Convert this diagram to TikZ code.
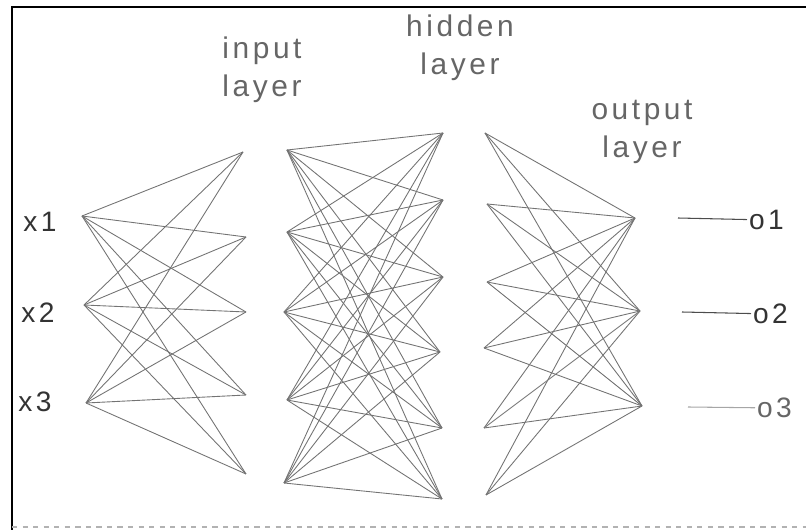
\documentclass[tikz,border=0pt]{standalone}
\usepackage{fontspec}
\setmainfont{Liberation Sans}[LetterSpace=12]
\begin{document}
\begin{tikzpicture}[
    x=0.02cm, y=-0.02cm,
    weight/.style={black!55, line width=0.5pt},
    layertitle/.style={align=center, text=black!60, font=\fontsize{17}{21.6}\selectfont, inner sep=0pt},
    varlabel/.style={text=black!80, font=\fontsize{16}{18}\selectfont, inner sep=1pt},
    outline/.style={black!70, line width=0.6pt},
]

\useasboundingbox (0,0) rectangle (806,530);

% frame
\draw [line width=0.8pt] (806,7) -- (12,7) -- (12,530);
\draw [black!30, line width=0.6pt, dashed] (12,527) -- (806,527);

% titles
\node (inputtitle) [layertitle] at (262,70) {input\\layer};
\node (hiddentitle) [layertitle] at (460,48) {hidden\\layer};
\node (outputtitle) [layertitle] at (642,132) {output\\layer};

% inputs
\coordinate (x1) at (82,216);
\coordinate (x2) at (84,305);
\coordinate (x3) at (86,403);

% input layer
\coordinate (ib1) at (243,152);
\coordinate (ib2) at (246,237);
\coordinate (ib3) at (246,312);
\coordinate (ib4) at (246,395);
\coordinate (ib5) at (246,474);

% hidden layer
\coordinate (hc1) at (287,150);
\coordinate (hc2) at (287,232);
\coordinate (hc3) at (284,312);
\coordinate (hc4) at (287,400);
\coordinate (hc5) at (284,483);

\coordinate (hd1) at (443,133);
\coordinate (hd2) at (443,200);
\coordinate (hd3) at (443,277);
\coordinate (hd4) at (440,352);
\coordinate (hd5) at (442,428);
\coordinate (hd6) at (442,499);

% output layer
\coordinate (oe1) at (485,133);
\coordinate (oe2) at (487,204);
\coordinate (oe3) at (487,282);
\coordinate (oe4) at (484,348);
\coordinate (oe5) at (484,428);
\coordinate (oe6) at (486,495);

\coordinate (o1) at (635,218);
\coordinate (o2) at (640,311);
\coordinate (o3) at (642,406);

% weights
\foreach \i in {1,...,3}
  \foreach \j in {1,...,5}
    \draw [weight] (x\i) -- (ib\j);
\foreach \i in {1,...,5}
  \foreach \j in {1,...,6}
    \draw [weight] (hc\i) -- (hd\j);
\foreach \i in {1,...,6}
  \foreach \j in {1,...,3}
    \draw [weight] (oe\i) -- (o\j);

% labels
\node (lx1) [varlabel] at (40,222) {x1};
\node (lx2) [varlabel] at (38,313) {x2};
\node (lx3) [varlabel] at (35,402) {x3};

\coordinate (t1) at (678,218);
\coordinate (t2) at (682,312);
\coordinate (t3) at (688,407);
\node (lo1) [varlabel, anchor=west] at (747,220) {o1};
\node (lo2) [varlabel, anchor=west] at (751,314) {o2};
\node (lo3) [varlabel, anchor=west, text=black!60] at (755,408) {o3};
\draw [outline] (t1) -- (lo1);
\draw [outline] (t2) -- (lo2);
\draw [outline, black!35] (t3) -- (lo3);

\end{tikzpicture}
\end{document}
